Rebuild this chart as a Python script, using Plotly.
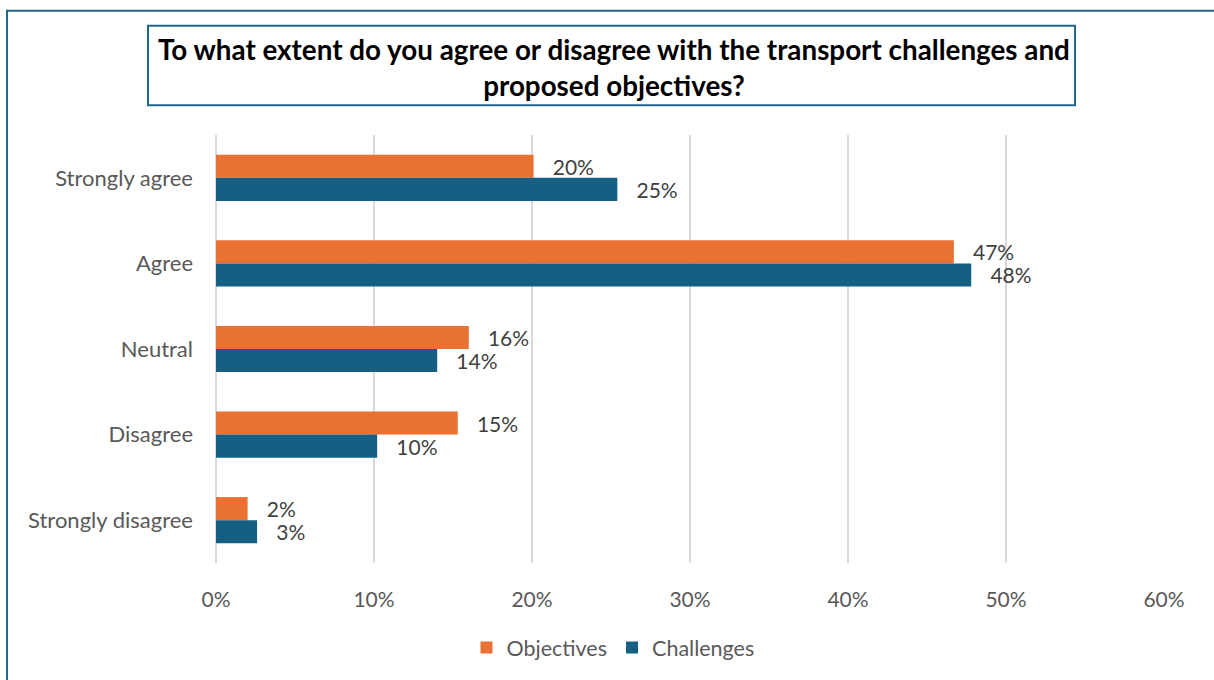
import plotly.graph_objects as go

# Survey responses (percent of respondents)
categories = ["Strongly agree", "Agree", "Neutral", "Disagree", "Strongly disagree"]
objectives = [20.1, 46.7, 16.0, 15.3, 2.0]
challenges = [25.4, 47.8, 14.0, 10.2, 2.6]
series_names = ["Objectives", "Challenges"]
x_ticks = [0, 10, 20, 30, 40, 50, 60]
x_tick_labels = ["0%", "10%", "20%", "30%", "40%", "50%", "60%"]
title_text = ("To what extent do you agree or disagree with the transport challenges and"
              "<br>proposed objectives?")

ORANGE = "#E97132"
TEAL = "#156082"
FRAME = "#23668C"
GRID = "#D9D9D9"
FONT = "Lato, 'Open Sans', sans-serif"

W, H = 1214, 680
M_L, M_R, M_T, M_B = 216, 50, 135, 114
PW, PH = W - M_L - M_R, H - M_T - M_B


def px_x(px):
    return (px - M_L) / PW


def px_y(py):
    return (H - M_B - py) / PH


fig = go.Figure()
for name, vals, color in [(series_names[0], objectives, ORANGE),
                          (series_names[1], challenges, TEAL)]:
    fig.add_trace(go.Bar(
        y=categories, x=vals, name=name, orientation="h",
        marker=dict(color=color, line=dict(width=0)),
        texttemplate="\u00a0\u00a0\u00a0%{x:.0f}%",
        textposition="outside", constraintext="none", cliponaxis=False,
        textfont=dict(family=FONT, size=21, color="#404040"),
        hoverinfo="skip",
    ))

fig.update_layout(
    width=W, height=H,
    margin=dict(l=M_L, r=M_R, t=M_T, b=M_B),
    paper_bgcolor="white", plot_bgcolor="white",
    barmode="group", bargap=0.46, bargroupgap=0,
    font=dict(family=FONT, size=21, color="#595959"),
    showlegend=True,
    legend=dict(orientation="h", x=px_x(613), y=px_y(651),
                xanchor="center", yanchor="middle",
                font=dict(family=FONT, size=21.5, color="#595959"),
                traceorder="normal", itemclick=False),
    xaxis=dict(range=[0, 60], tickvals=x_ticks, ticktext=x_tick_labels,
               showgrid=True, gridcolor=GRID, gridwidth=2,
               zeroline=True, zerolinecolor=GRID, zerolinewidth=2,
               showline=False, ticks="",
               ticklabelstandoff=22,
               tickfont=dict(family=FONT, size=21, color="#595959")),
    yaxis=dict(autorange="reversed", showgrid=False, zeroline=False,
               showline=False, ticks="", ticklabelstandoff=22,
               tickfont=dict(family=FONT, size=22, color="#595959")),
    shapes=[
        # chart frame
        dict(type="rect", xref="paper", yref="paper",
             x0=px_x(7), x1=px_x(1240), y0=px_y(700), y1=px_y(10),
             line=dict(color=FRAME, width=2), fillcolor="rgba(0,0,0,0)",
             layer="below"),
        # title box
        dict(type="rect", xref="paper", yref="paper",
             x0=px_x(148), x1=px_x(1075), y0=px_y(105), y1=px_y(25),
             line=dict(color=FRAME, width=2), fillcolor="white",
             layer="below"),
    ],
    annotations=[
        dict(text="<b>" + title_text + "</b>", xref="paper", yref="paper",
             x=px_x(614), y=px_y(67), xanchor="center", yanchor="middle",
             showarrow=False, align="center",
             font=dict(family=FONT, size=27.8, color="#000000")),
    ],
)

fig.write_html("out.html")
